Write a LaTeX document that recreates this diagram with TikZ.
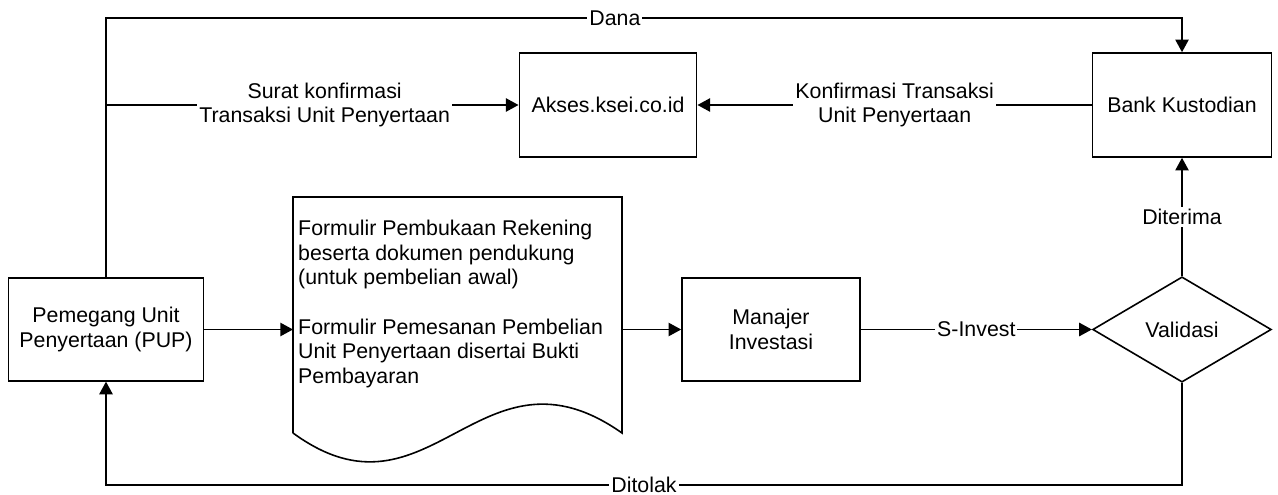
\documentclass[tikz,border=0pt]{standalone}
\usepackage{fontspec}
\setmainfont{Liberation Sans}
\usetikzlibrary{shapes.geometric,arrows.meta}
\begin{document}
\begin{tikzpicture}[x=0.75pt, y=-0.75pt, line width=1.2pt,
    >={Triangle[length=9.5pt,width=10pt]},
    every node/.style={font=\fontsize{16}{18.4}\selectfont},
    box/.style={draw, align=center, minimum width=134pt, minimum height=78pt},
    lbl/.style={fill=white, inner sep=1.5pt, align=center}]
  \useasboundingbox (0,0) rectangle (1278,495);
  \node[box, minimum width=146pt, minimum height=77pt] (pup) at (106,329.5) {Pemegang Unit\\Penyertaan (PUP)};
  \node[box, minimum width=133pt] (akses) at (608,105) {Akses.ksei.co.id};
  \node[box] (bank) at (1182,105) {Bank Kustodian};
  \node[box, minimum width=133.5pt, minimum height=77pt] (mi) at (771,329.5) {Manajer\\Investasi};
  \node[draw, diamond, inner sep=0pt, minimum width=134pt, minimum height=79pt] (val) at (1182,329.5) {Validasi};
  \draw (293,433) -- (293,197) -- (622,197) -- (622,433)
        .. controls (480,333) and (430,533) .. (293,433);
  \node[anchor=west, align=left] (form) at (293,304) {Formulir Pembukaan Rekening\\beserta dokumen pendukung\\(untuk pembelian awal)\\[18.4pt]Formulir Pemesanan Pembelian\\Unit Penyertaan disertai Bukti\\Pembayaran};
  \coordinate (docw) at (293,329.5);
  \coordinate (doce) at (622,329.5);
  \coordinate (tl) at (106,18);
  \coordinate (tr) at (1182,18);
  \coordinate (sl) at (106,105);
  \coordinate (bl) at (106,485);
  \coordinate (br) at (1182,485);
  \draw[->] (pup.north) -- (tl) -- node[lbl, pos=0.473] {Dana} (tr) -- (bank.north);
  \draw[->] (sl) -- node[lbl, pos=0.53] {Surat konfirmasi\\Transaksi Unit Penyertaan} (akses.west);
  \draw[->] (bank.west) -- node[lbl] {Konfirmasi Transaksi\\Unit Penyertaan} (akses.east);
  \draw[->] (pup.east) -- (docw);
  \draw[->] (doce) -- (mi.west);
  \draw[->] (mi.east) -- node[lbl] {S-Invest} (val.west);
  \draw[->] (val.north) -- node[lbl] {Diterima} (bank.south);
  \draw[->] (val.south) -- (br) -- node[lbl] {Ditolak} (bl) -- (pup.south);
\end{tikzpicture}
\end{document}
